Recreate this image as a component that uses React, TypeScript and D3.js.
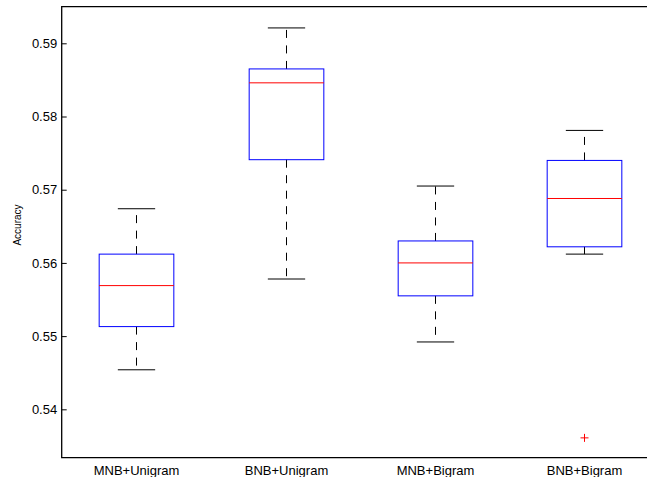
import React, { useEffect, useRef } from "react";
import * as d3 from "d3";

// classifier setups along the x axis
const categories = ["MNB+Unigram", "BNB+Unigram", "MNB+Bigram", "BNB+Bigram"];
// five-number summaries
const lowerWhisker = [0.5454, 0.5578, 0.5492, 0.5612];
const q1 = [0.5513, 0.5741, 0.5555, 0.5622];
const median = [0.5569, 0.5846, 0.56, 0.5688];
const q3 = [0.5612, 0.5865, 0.563, 0.574];
const upperWhisker = [0.5674, 0.5921, 0.5705, 0.5781];
// outliers as [category index, value]
const outliers: [number, number][] = [[3, 0.5361]];
const yTicks = [0.54, 0.55, 0.56, 0.57, 0.58, 0.59];

export default function App() {
  const ref = useRef<SVGSVGElement>(null);

  useEffect(() => {
    const width = 647,
      height = 477;
    const margin = { top: 6.7, left: 61.7, bottom: 457.7 };

    const svg = d3.select(ref.current);
    svg.selectAll("*").remove();

    const font = "'Liberation Sans', Arial, Helvetica, sans-serif";

    // x positions 1..4, limits 0.5..4.5 like matlab's boxplot
    const x = d3.scaleLinear().domain([0.5, 4.5]).range([margin.left, margin.left + 4 * 149.3]);
    const y = d3.scaleLinear().domain([0.53339, 0.595]).range([margin.bottom, margin.top]);

    const g = svg.append("g");

    // boxes
    categories.forEach((c, i) => {
      const cx = Math.round(x(i + 1)) + 0.5;
      const half = x(0.25) - x(0);
      const cap = x(0.125) - x(0);

      // whiskers (dashed)
      g.append("line")
        .attr("x1", cx).attr("x2", cx)
        .attr("y1", y(q3[i])).attr("y2", y(upperWhisker[i]))
        .attr("stroke", "#000").attr("stroke-width", 1)
        .attr("stroke-dasharray", "8,7.5");
      g.append("line")
        .attr("x1", cx).attr("x2", cx)
        .attr("y1", y(q1[i])).attr("y2", y(lowerWhisker[i]))
        .attr("stroke", "#000").attr("stroke-width", 1)
        .attr("stroke-dasharray", "8,7.5");

      // caps
      [upperWhisker[i], lowerWhisker[i]].forEach((v) => {
        g.append("line")
          .attr("x1", cx - cap).attr("x2", cx + cap)
          .attr("y1", y(v)).attr("y2", y(v))
          .attr("stroke", "#000").attr("stroke-width", 1);
      });

      // box
      g.append("rect")
        .attr("x", cx - half).attr("width", 2 * half)
        .attr("y", y(q3[i])).attr("height", y(q1[i]) - y(q3[i]))
        .attr("fill", "none").attr("stroke", "#0000ff").attr("stroke-width", 1);

      // median
      g.append("line")
        .attr("x1", cx - half).attr("x2", cx + half)
        .attr("y1", y(median[i])).attr("y2", y(median[i]))
        .attr("stroke", "#ff0000").attr("stroke-width", 1);

      // category label
      g.append("text")
        .attr("x", cx).attr("y", 475)
        .attr("text-anchor", "middle")
        .style("font-family", font).style("font-size", "13px")
        .text(c);
    });

    // outliers as red +
    outliers.forEach(([i, v]) => {
      const cx = Math.round(x(i + 1)) + 0.5;
      const cy = y(v);
      g.append("path")
        .attr("d", `M${cx - 4},${cy}H${cx + 4}M${cx},${cy - 4}V${cy + 4}`)
        .attr("stroke", "#ff0000").attr("stroke-width", 1).attr("fill", "none");
    });

    // left axis, ticks pointing inwards
    const yAxis = g.append("g")
      .attr("transform", `translate(${margin.left},0)`)
      .call(d3.axisLeft(y).tickValues(yTicks).tickSize(-5).tickPadding(4.5).tickFormat(d3.format(".2f")));
    yAxis.select(".domain").remove();
    yAxis.selectAll("line").attr("stroke", "#000");
    yAxis.selectAll("text")
      .attr("fill", "#000")
      .style("font-family", font).style("font-size", "13px");

    // frame: left, top, bottom (right side runs off the page)
    g.append("path")
      .attr("d", `M${width},${margin.top}H${margin.left}V${margin.bottom}H${width}`)
      .attr("fill", "none").attr("stroke", "#000").attr("stroke-width", 1.3);

    // y label
    g.append("text")
      .attr("transform", `translate(21,225) rotate(-90)`)
      .attr("text-anchor", "middle")
      .style("font-family", font).style("font-size", "10px")
      .text("Accuracy");
  }, []);

  return (
    <svg
      ref={ref}
      width={647}
      height={477}
      style={{ position: "absolute", left: 0, top: 0, background: "#fff" }}
    />
  );
}
